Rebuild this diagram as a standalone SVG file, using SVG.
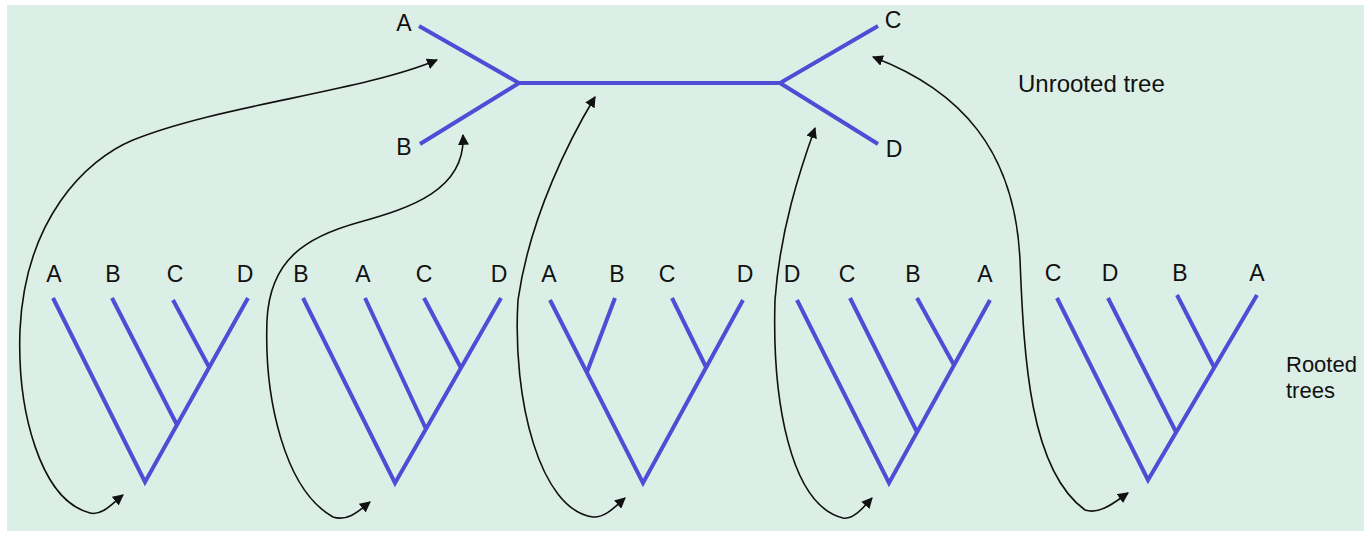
<svg xmlns="http://www.w3.org/2000/svg" width="1364" height="533" viewBox="0 0 1364 533">
<style>
.br{fill:none;stroke:#4d4dd6;stroke-width:4;stroke-linejoin:miter;stroke-linecap:butt}
.lb{font-family:"Liberation Sans",Arial,sans-serif;font-size:23px;fill:#111;text-anchor:middle}
.tx{font-family:"Liberation Sans",Arial,sans-serif;font-size:22px;fill:#111}
.ar{fill:none;stroke:#111;stroke-width:1.6}
</style>
<defs>
<marker id="ah" viewBox="0 0 10 10" refX="9" refY="5" markerWidth="11" markerHeight="11" markerUnits="userSpaceOnUse" orient="auto-start-reverse">
<path d="M0,0 L10,5 L0,10 Z" fill="#111"/>
</marker>
</defs>
<rect width="1364" height="533" fill="#ffffff"/>
<rect x="7" y="5" width="1357" height="526" fill="#dcefe6"/>

<g id="unrooted">
<polyline class="br" points="419,26 519,83 420,144"/>
<polyline class="br" points="878,26 780,83 878,144"/>
<line class="br" x1="519" y1="83" x2="780" y2="83"/>
<text class="lb" x="404" y="31">A</text>
<text class="lb" x="404" y="155">B</text>
<text class="lb" x="893" y="28">C</text>
<text class="lb" x="894" y="157">D</text>
<text class="tx" x="1018" y="92" style="font-size:24px">Unrooted tree</text>
</g>

<g id="tree1">
<polyline class="br" points="53,298 145,482 248,298"/>
<line class="br" x1="112" y1="298" x2="177" y2="425"/>
<line class="br" x1="173" y1="300" x2="209" y2="367"/>
<text class="lb" x="54" y="282">A</text>
<text class="lb" x="113" y="282">B</text>
<text class="lb" x="175" y="282">C</text>
<text class="lb" x="245" y="282">D</text>
</g>

<g id="tree2">
<polyline class="br" points="303,298 395,483 501,298"/>
<line class="br" x1="365" y1="298" x2="426" y2="429"/>
<line class="br" x1="424" y1="298" x2="461" y2="368"/>
<text class="lb" x="301" y="282">B</text>
<text class="lb" x="363" y="282">A</text>
<text class="lb" x="424" y="282">C</text>
<text class="lb" x="499" y="282">D</text>
</g>

<g id="tree3">
<polyline class="br" points="550,300 643,483 743,300"/>
<line class="br" x1="615" y1="298" x2="587" y2="372"/>
<line class="br" x1="672" y1="298" x2="706" y2="367"/>
<text class="lb" x="549" y="282">A</text>
<text class="lb" x="617" y="282">B</text>
<text class="lb" x="667" y="282">C</text>
<text class="lb" x="745" y="282">D</text>
</g>

<g id="tree4">
<polyline class="br" points="797,300 889,483 990,300"/>
<line class="br" x1="850" y1="298" x2="917" y2="432"/>
<line class="br" x1="917" y1="298" x2="954" y2="365"/>
<text class="lb" x="792" y="282">D</text>
<text class="lb" x="847" y="282">C</text>
<text class="lb" x="913" y="282">B</text>
<text class="lb" x="985" y="282">A</text>
</g>

<g id="tree5">
<polyline class="br" points="1057,298 1148,480 1257,295"/>
<line class="br" x1="1108" y1="298" x2="1176" y2="432"/>
<line class="br" x1="1177" y1="295" x2="1214" y2="367"/>
<text class="lb" x="1053" y="281">C</text>
<text class="lb" x="1110" y="281">D</text>
<text class="lb" x="1180" y="281">B</text>
<text class="lb" x="1257" y="281">A</text>
<text class="tx" x="1286" y="372">Rooted</text>
<text class="tx" x="1286" y="398">trees</text>
</g>

<g id="connectors">
<path class="ar" marker-start="url(#ah)" marker-end="url(#ah)" d="M437,60 C360,92 220,105 133,140 C85,160 25,220 20,330 C17,410 40,500 90,513 C102,516 113,503 123,495"/>
<path class="ar" marker-start="url(#ah)" marker-end="url(#ah)" d="M463,135 C466,190 410,208 360,222 C305,237 270,260 267,320 C264,400 285,490 333,517 C348,522 360,510 370,502"/>
<path class="ar" marker-start="url(#ah)" marker-end="url(#ah)" d="M595,97 C572,135 530,215 518,300 C512,400 540,510 593,517 C605,518 616,506 625,498"/>
<path class="ar" marker-start="url(#ah)" marker-end="url(#ah)" d="M815,128 C800,170 780,230 775,300 C772,400 790,505 843,518 C853,520 863,508 872,498"/>
<path class="ar" marker-start="url(#ah)" marker-end="url(#ah)" d="M873,57 C960,90 1015,150 1020,260 C1024,360 1030,470 1085,510 C1100,515 1115,502 1128,493"/>
</g>
</svg>
